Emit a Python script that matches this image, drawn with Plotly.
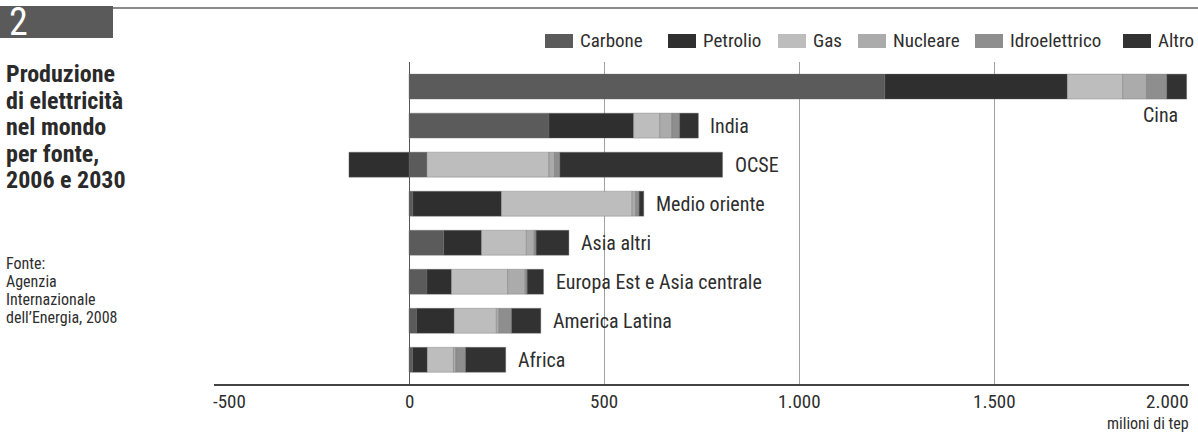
import plotly.graph_objects as go

# ---------------- data ----------------
categories = ["Cina", "India", "OCSE", "Medio oriente", "Asia altri",
              "Europa Est e Asia centrale", "America Latina", "Africa"]
carbone = [1220, 359, 46, 10, 89, 46, 19, 9]
petrolio = [468, 217, -154, 227, 97, 63, 97, 38]
gas = [142, 67, 313, 335, 115, 144, 108, 67]
nucleare = [61, 31, 14, 9, 20, 45, 7, 6]
idroelettrico = [52, 20, 14, 9, 5, 5, 32, 25]
altro = [51, 48, 417, 12, 84, 42, 75, 103]

series_names = ["Carbone", "Petrolio", "Gas", "Nucleare", "Idroelettrico", "Altro"]
series_values = [carbone, petrolio, gas, nucleare, idroelettrico, altro]
series_colors = ["#5b5b5b", "#2f2f2f", "#bdbdbd", "#ababab", "#8e8e8e", "#323232"]

tick_values = [-500, 0, 500, 1000, 1500, 2000]
tick_labels = ["-500", "0", "500", "1.000", "1.500", "2.000"]

FONT = "Roboto Condensed, Liberation Sans Narrow, DejaVu Sans Condensed, sans-serif"
TXT = "#2e2e2e"

# ---------------- layout geometry (pixels) ----------------
W, H = 1198, 433
ML, MR, MT, MB = 214, 9, 62, 49
PW, PH = W - ML - MR, H - MT - MB


def pxx(x):
    return (x - ML) / PW


def pxy(y):
    return (H - MB - y) / PH


rows = list(range(len(categories)))

fig = go.Figure()
for name, vals, col in zip(series_names, series_values, series_colors):
    fig.add_trace(go.Bar(
        y=rows, x=vals, orientation="h", name=name,
        marker=dict(color=col, line=dict(width=0.6, color="rgba(110,110,110,0.6)")),
        width=0.64, showlegend=False, hoverinfo="x+name",
    ))

annotations = []
shapes = []

# category labels
for i, cat in enumerate(categories):
    pos_total = sum(v[i] for v in series_values if v[i] > 0)
    if i == 0:
        annotations.append(dict(x=1976, y=0.72, xref="x", yref="y", text=cat,
                                showarrow=False, xanchor="right", yanchor="middle",
                                font=dict(family=FONT, size=20, color=TXT)))
    else:
        annotations.append(dict(x=pos_total, y=i, xref="x", yref="y", text=cat,
                                showarrow=False, xanchor="left", yanchor="middle",
                                xshift=10, font=dict(family=FONT, size=20, color=TXT)))

# x tick labels
for v, lab in zip(tick_values, tick_labels):
    anchor = "center"
    shift = 0
    if v == tick_values[0]:
        anchor, shift = "left", -3
    elif v == tick_values[-1]:
        anchor, shift = "right", 2
    annotations.append(dict(x=v, y=pxy(401), xref="x", yref="paper", text=lab,
                            showarrow=False, xanchor=anchor, yanchor="middle", xshift=shift,
                            font=dict(family=FONT, size=19, color=TXT)))
annotations.append(dict(x=pxx(1191), y=pxy(423.5), xref="paper", yref="paper",
                        text="milioni di tep", showarrow=False, xanchor="right",
                        yanchor="middle", font=dict(family=FONT, size=16, color=TXT)))

# legend (manual)
leg_boxes = [545, 668, 778, 858, 975, 1123]
for name, col, bx in zip(series_names, series_colors, leg_boxes):
    shapes.append(dict(type="rect", xref="paper", yref="paper",
                       x0=pxx(bx), x1=pxx(bx + 28), y0=pxy(48), y1=pxy(34),
                       fillcolor=col, line=dict(width=0)))
    annotations.append(dict(x=pxx(bx + 33), y=pxy(41), xref="paper", yref="paper",
                            text=name, showarrow=False, xanchor="left", yanchor="middle",
                            font=dict(family=FONT, size=19, color=TXT)))

# header: number box and top rule
shapes.append(dict(type="rect", xref="paper", yref="paper",
                   x0=pxx(0), x1=pxx(113), y0=pxy(38), y1=pxy(6),
                   fillcolor="#5a5a5a", line=dict(width=0)))
shapes.append(dict(type="line", xref="paper", yref="paper",
                   x0=pxx(113), x1=pxx(1198), y0=pxy(8), y1=pxy(8),
                   line=dict(color="#8a8a8a", width=2)))
annotations.append(dict(x=pxx(7), y=pxy(22), xref="paper", yref="paper", text="2",
                        showarrow=False, xanchor="left", yanchor="middle",
                        font=dict(family=FONT, size=38, color="white")))

# title block
title_lines = ["Produzione", "di elettricità", "nel mondo", "per fonte,", "2006 e 2030"]
for k, t in enumerate(title_lines):
    annotations.append(dict(x=pxx(4), y=pxy(74 + 26.5 * k), xref="paper", yref="paper",
                            text="<b>" + t + "</b>", showarrow=False, xanchor="left",
                            yanchor="middle",
                            font=dict(family=FONT, size=24, color="#2a2a2a")))
source_lines = ["Fonte:", "Agenzia", "Internazionale", "dell’Energia, 2008"]
for k, t in enumerate(source_lines):
    annotations.append(dict(x=pxx(4), y=pxy(263 + 18.3 * k), xref="paper", yref="paper",
                            text=t, showarrow=False, xanchor="left", yanchor="middle",
                            font=dict(family=FONT, size=16, color=TXT)))

fig.update_layout(
    width=W, height=H,
    margin=dict(l=ML, r=MR, t=MT, b=MB, pad=0),
    paper_bgcolor="white", plot_bgcolor="white",
    barmode="relative", bargap=0.36,
    showlegend=False,
    xaxis=dict(range=[-500, 2000], tickvals=tick_values, showticklabels=False,
               showgrid=True, gridcolor="#a0a0a0", gridwidth=1,
               zeroline=True, zerolinecolor="#555555", zerolinewidth=1,
               showline=True, linecolor="#444444", linewidth=2, mirror=False,
               ticks="", fixedrange=True),
    yaxis=dict(range=[7.62, -0.63], showticklabels=False, showgrid=False,
               zeroline=False, showline=False, ticks="", fixedrange=True),
    annotations=annotations, shapes=shapes,
)

fig.write_html("out.html", config={"displayModeBar": False},
               post_script="document.body.style.margin='0';")
